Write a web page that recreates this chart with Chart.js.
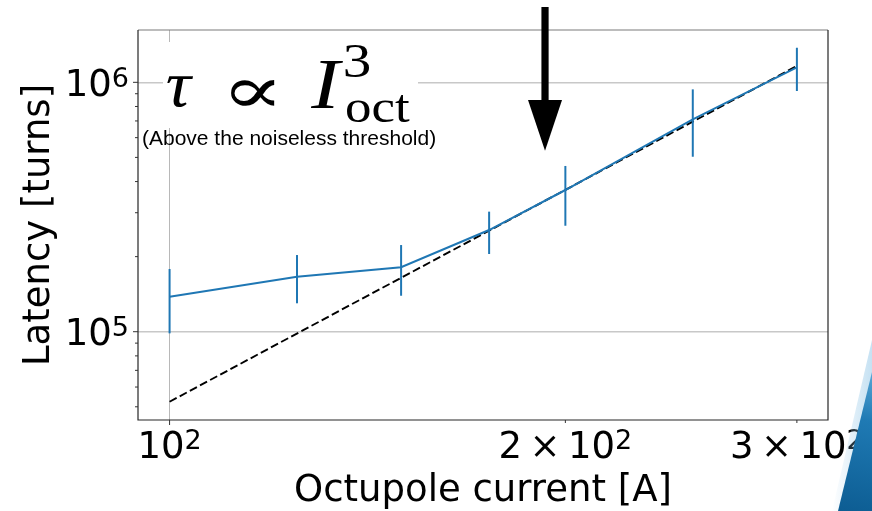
<!DOCTYPE html>
<html>
<head>
<meta charset="utf-8">
<script src="https://cdn.jsdelivr.net/npm/chart.js@4.4.1/dist/chart.umd.min.js"></script>
<style>
  html, body { margin: 0; padding: 0; background: #ffffff; overflow: hidden; }
  canvas { display: block; }
</style>
</head>
<body>
<canvas id="c" width="872" height="511"></canvas>
<script>
// Measured latency vs octupole current (log-log)
const currents     = [100, 125, 150, 175, 200, 250, 300];
const latency      = [1.381e5, 1.662e5, 1.813e5, 2.557e5, 3.70e5, 7.10e5, 1.149e6];
const latencyLow   = [9.85e4, 1.30e5, 1.394e5, 2.049e5, 2.66e5, 5.03e5, 9.23e5];
const latencyHigh  = [1.784e5, 2.03e5, 2.226e5, 3.03e5, 4.62e5, 9.37e5, 1.376e6];

// Cubic scaling guide line
const fitCurrents  = [100, 300];
const fitLatency   = [5.24e4, 1.163e6];

// Axis ticks
const xMajorTicks  = [100];
const xMinorTicks  = [200, 300];
const xTickValues  = [100, 200, 300];
const xTickPrefix  = ['', '2', '3'];
const xTickExp     = ['2', '2', '2'];
const yTickValues  = [1e5, 1e6];
const yTickExp     = ['5', '6'];
const yMinorTicks  = [5e4, 6e4, 7e4, 8e4, 9e4, 2e5, 3e5, 4e5, 5e5, 6e5, 7e5, 8e5, 9e5];

// Threshold marker position (current, A)
const thresholdCurrent = 193;

const xTitle = 'Octupole current [A]';
const yTitle = 'Latency [turns]';
const noteText = '(Above the noiseless threshold)';

const C0 = '#1f77b4';
const TICK_FONT = '"DejaVu Sans", sans-serif';
const MAIN_PX = 37;
const EXP_PX = 27;

// Draw a glyph run so its ink fills the given box height, keeping a
// near-natural aspect ratio, centred horizontally in the box.
function fitGlyph(ctx, text, font, x0, x1, y0, y1, maxStretch) {
  ctx.save();
  ctx.font = font;
  ctx.textAlign = 'left';
  ctx.textBaseline = 'alphabetic';
  const m = ctx.measureText(text);
  const w = m.actualBoundingBoxLeft + m.actualBoundingBoxRight;
  const h = m.actualBoundingBoxAscent + m.actualBoundingBoxDescent;
  const sy = (y1 - y0) / h;
  let sx = (x1 - x0) / w;
  const lim = maxStretch || 1.1;
  sx = Math.max(sy / lim, Math.min(sy * lim, sx));
  const cx = (x0 + x1) / 2 - (w * sx) / 2;
  ctx.translate(cx, y0);
  ctx.scale(sx, sy);
  ctx.fillText(text, m.actualBoundingBoxLeft, m.actualBoundingBoxAscent);
  ctx.restore();
}

// Draws "[prefix ×] 10^exp" starting at x, baseline y; returns its width
function powerLabel(ctx, prefix, exp, x, y, dry) {
  const main = MAIN_PX + 'px ' + TICK_FONT;
  const small = EXP_PX + 'px ' + TICK_FONT;
  const gap = MAIN_PX * 0.2;
  let cx = x;
  ctx.font = main;
  if (prefix) {
    if (!dry) ctx.fillText(prefix, cx, y);
    cx += ctx.measureText(prefix).width + gap;
    if (!dry) ctx.fillText('\u00d7', cx, y);
    cx += ctx.measureText('\u00d7').width + gap;
  }
  if (!dry) ctx.fillText('10', cx, y);
  cx += ctx.measureText('10').width;
  ctx.font = small;
  if (!dry) ctx.fillText(exp, cx, y - 9);
  cx += ctx.measureText(exp).width;
  return cx - x;
}

const errorBars = {
  id: 'errorBars',
  afterDatasetsDraw(chart) {
    const ctx = chart.ctx, xs = chart.scales.x, ys = chart.scales.y;
    ctx.save();
    ctx.strokeStyle = C0;
    ctx.lineWidth = 2;
    currents.forEach((c, i) => {
      const px = xs.getPixelForValue(c);
      ctx.beginPath();
      ctx.moveTo(px, ys.getPixelForValue(latencyLow[i]));
      ctx.lineTo(px, ys.getPixelForValue(latencyHigh[i]));
      ctx.stroke();
    });
    ctx.restore();
  }
};

const decor = {
  id: 'decor',
  beforeDraw(chart) {
    const ctx = chart.ctx;
    ctx.save();
    ctx.fillStyle = '#ffffff';
    ctx.fillRect(0, 0, chart.width, chart.height);
    ctx.restore();
  },
  beforeDatasetsDraw(chart) {
    // white backing behind the scaling formula
    const ctx = chart.ctx, a = chart.chartArea;
    ctx.save();
    ctx.fillStyle = '#ffffff';
    ctx.fillRect(a.left + 25, a.top + 12, 255, 86);
    ctx.restore();
  },
  afterDraw(chart) {
    const ctx = chart.ctx, a = chart.chartArea, xs = chart.scales.x, ys = chart.scales.y;
    ctx.save();

    // frame
    ctx.lineWidth = 1.2;
    ctx.strokeStyle = '#7a7a7a';
    ctx.beginPath(); ctx.moveTo(a.left, a.top); ctx.lineTo(a.right, a.top); ctx.stroke();
    ctx.strokeStyle = '#262626';
    ctx.beginPath();
    ctx.moveTo(a.left, a.top); ctx.lineTo(a.left, a.bottom); ctx.lineTo(a.right, a.bottom); ctx.lineTo(a.right, a.top);
    ctx.stroke();

    // tick marks
    ctx.lineWidth = 1;
    ctx.strokeStyle = '#333333';
    const tick = (x1, y1, x2, y2) => { ctx.beginPath(); ctx.moveTo(x1, y1); ctx.lineTo(x2, y2); ctx.stroke(); };
    yTickValues.forEach(v => { const p = ys.getPixelForValue(v); tick(a.left - 5, p, a.left, p); });
    yMinorTicks.forEach(v => { const p = ys.getPixelForValue(v); if (p > a.top && p < a.bottom) tick(a.left - 3, p, a.left, p); });
    xMajorTicks.forEach(v => { const p = xs.getPixelForValue(v); tick(p, a.bottom, p, a.bottom + 5); });
    xMinorTicks.forEach(v => { const p = xs.getPixelForValue(v); tick(p, a.bottom, p, a.bottom + 3); });

    // tick labels
    ctx.fillStyle = '#000000';
    ctx.textAlign = 'left';
    ctx.textBaseline = 'alphabetic';
    yTickValues.forEach((v, i) => {
      const p = ys.getPixelForValue(v);
      const w = powerLabel(ctx, '', yTickExp[i], 0, 0, true);
      powerLabel(ctx, '', yTickExp[i], a.left - 9 - w, p + 13.5, false);
    });
    xTickValues.forEach((v, i) => {
      const p = xs.getPixelForValue(v);
      const w = powerLabel(ctx, xTickPrefix[i], xTickExp[i], 0, 0, true);
      powerLabel(ctx, xTickPrefix[i], xTickExp[i], p - w / 2, a.bottom + 38, false);
    });

    // axis titles
    ctx.font = MAIN_PX + 'px ' + TICK_FONT;
    ctx.textAlign = 'center';
    ctx.fillText(xTitle, (a.left + a.right) / 2, 501);
    ctx.save();
    ctx.translate(49, (a.top + a.bottom) / 2);
    ctx.rotate(-Math.PI / 2);
    ctx.fillText(yTitle, 0, 0);
    ctx.restore();

    // scaling formula: tau ∝ I_oct^3
    ctx.fillStyle = '#000000';
    fitGlyph(ctx, '\u03c4', 'italic 66px "Liberation Serif", serif', 166.7, 193.3, 76.7, 107.3, 1.25);
    fitGlyph(ctx, '\u221d', '200 60px "DejaVu Sans", "DejaVu Serif", sans-serif', 229.3, 276.7, 80, 106.7, 1.4);
    fitGlyph(ctx, 'I', 'italic 66px "Liberation Serif", serif', 306.7, 346.7, 61.7, 108, 1.2);
    fitGlyph(ctx, '3', '46px "Liberation Serif", serif', 345, 370, 43.3, 76.7, 1.15);
    fitGlyph(ctx, 'oct', '46px "Liberation Serif", serif', 340, 416, 95, 122, 1.15);

    // note under the formula
    ctx.font = '21px "Liberation Sans", Arial, sans-serif';
    ctx.textAlign = 'left';
    ctx.fillText(noteText, 142, 144.7);

    // threshold arrow
    const ax = xs.getPixelForValue(thresholdCurrent);
    ctx.fillStyle = '#000000';
    ctx.fillRect(ax - 3.6, a.top - 23, 7.2, 94);
    ctx.beginPath();
    ctx.moveTo(ax - 17, a.top + 70);
    ctx.lineTo(ax + 17, a.top + 70);
    ctx.lineTo(ax, a.top + 120.7);
    ctx.closePath();
    ctx.fill();

    // slide corner accent
    const W = chart.width, H = chart.height;
    const soft = ctx.createLinearGradient(W - 40, 0, W, 0);
    soft.addColorStop(0, 'rgba(140,195,230,0)');
    soft.addColorStop(1, 'rgba(140,195,230,0.5)');
    ctx.beginPath();
    ctx.moveTo(W, 340);
    ctx.lineTo(W - 40, H);
    ctx.lineTo(W, H);
    ctx.closePath();
    ctx.fillStyle = soft;
    ctx.fill();
    const g = ctx.createLinearGradient(W, 370, W - 30, H);
    g.addColorStop(0, '#5aa8d6');
    g.addColorStop(0.35, '#1f7ab4');
    g.addColorStop(1, '#0d5d93');
    ctx.beginPath();
    ctx.moveTo(W, 372);
    ctx.lineTo(W - 34, H);
    ctx.lineTo(W, H);
    ctx.closePath();
    ctx.fillStyle = g;
    ctx.fill();

    ctx.restore();
  }
};

new Chart(document.getElementById('c'), {
  type: 'scatter',
  data: {
    datasets: [
      {
        data: currents.map((c, i) => ({ x: c, y: latency[i] })),
        showLine: true,
        borderColor: C0,
        borderWidth: 2,
        pointRadius: 0,
        order: 1
      },
      {
        data: fitCurrents.map((c, i) => ({ x: c, y: fitLatency[i] })),
        showLine: true,
        borderColor: '#000000',
        borderWidth: 1.9,
        borderDash: [8, 3.5],
        pointRadius: 0,
        order: 2
      }
    ]
  },
  options: {
    responsive: false,
    devicePixelRatio: 1,
    animation: false,
    events: [],
    layout: { padding: { left: 0, top: 30, right: 44, bottom: 0 } },
    plugins: { legend: { display: false }, tooltip: { enabled: false } },
    scales: {
      x: {
        type: 'logarithmic',
        min: 94.62,
        max: 316.8,
        afterBuildTicks: s => { s.ticks = xMajorTicks.map(v => ({ value: v })); },
        afterFit: s => { s.height = 91; },
        ticks: { display: false },
        border: { display: false },
        grid: { color: '#b8b8b8', lineWidth: 1, drawTicks: false }
      },
      y: {
        type: 'logarithmic',
        min: 44260,
        max: 1.621e6,
        afterBuildTicks: s => { s.ticks = yTickValues.map(v => ({ value: v })); },
        afterFit: s => { s.width = 138; },
        ticks: { display: false },
        border: { display: false },
        grid: { color: '#c8c8c8', lineWidth: 1.6, drawTicks: false }
      }
    }
  },
  plugins: [decor, errorBars]
});
</script>
</body>
</html>
